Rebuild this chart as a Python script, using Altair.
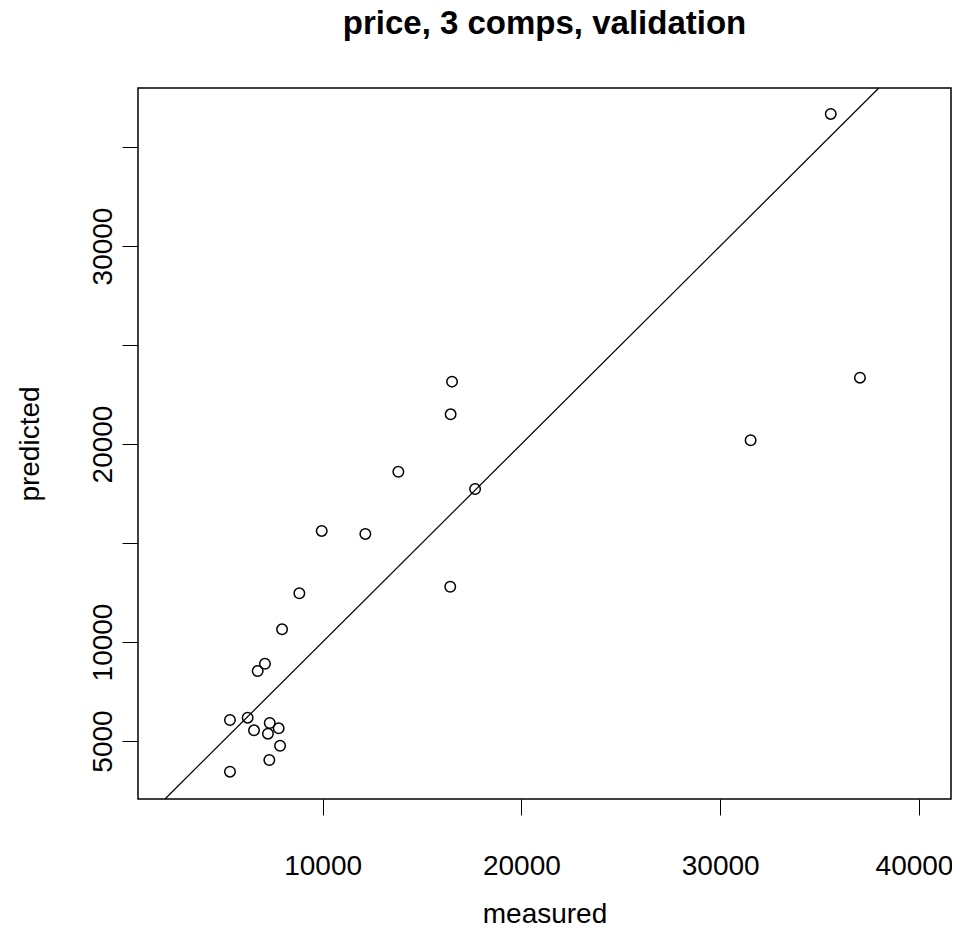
import altair as alt
import pandas as pd

measured = [35560, 37030, 31530, 16510, 16440, 13810, 17670, 9955, 12150, 16420,
            8830, 7960, 7100, 6735, 5340, 6230, 6550, 7340, 7790, 7250, 7860, 7320, 5340]
predicted = [36670, 23350, 20190, 23150, 21500, 18600, 17730, 15610, 15460, 12790,
             12460, 10640, 8900, 8535, 6060, 6180, 5540, 5910, 5640, 5370, 4760, 4040, 3450]

x_ticks = [10000, 20000, 30000, 40000]
y_ticks = [5000, 10000, 15000, 20000, 25000, 30000, 35000]
y_labeled = [5000, 10000, 20000, 30000]
x_domain = [714, 41610]
y_domain = [2071, 37980]
identity_ends = [2071, 37980]  # abline(0, 1) across the plotted range

pts = pd.DataFrame({"measured": measured, "predicted": predicted})
ref = pd.DataFrame({"measured": identity_ends, "predicted": identity_ends})

FONT = "Liberation Sans"

xscale = alt.Scale(domain=x_domain, nice=False, zero=False)
yscale = alt.Scale(domain=y_domain, nice=False, zero=False)

label_test = " || ".join(f"datum.value == {v}" for v in y_labeled)

xaxis = alt.Axis(values=x_ticks, title="measured", labelBaseline="alphabetic",
                 labelPadding=59, titleBaseline="alphabetic", titleY=123,
                 titleAlign="center", format="d",
                 labelOffset={"condition": {"test": "datum.value == 40000", "value": -5},
                              "value": 0})
yaxis = alt.Axis(values=y_ticks, title="predicted", labelAngle=270,
                 labelAlign="center", labelBaseline="alphabetic", labelPadding=11,
                 labelExpr=f"({label_test}) ? datum.label : ''",
                 format="d", titleAngle=270, titleX=-100, titleY=355.5,
                 titleAlign="center", titleBaseline="alphabetic")

points = alt.Chart(pts).mark_point(shape="circle", filled=False, color="black",
                                   size=110, strokeWidth=1.5, opacity=1).encode(
    x=alt.X("measured:Q", scale=xscale, axis=xaxis),
    y=alt.Y("predicted:Q", scale=yscale, axis=yaxis),
)

line = alt.Chart(ref).mark_line(color="black", strokeWidth=1.2).encode(
    x=alt.X("measured:Q", scale=xscale),
    y=alt.Y("predicted:Q", scale=yscale),
)

chart = alt.layer(line, points).properties(
    width=813,
    height=711,
    background="white",
    autosize=alt.AutoSizeParams(type="none"),
    padding={"left": 130, "top": 80, "right": 1, "bottom": 126},
    title=alt.TitleParams("price, 3 comps, validation", fontSize=33, fontWeight="bold",
                          font=FONT, anchor="middle", frame="group", offset=45,
                          color="black"),
).configure_view(
    stroke="black", strokeWidth=1.5, fill="white"
).configure_axis(
    grid=False, domain=False, tickColor="black", tickSize=16, tickWidth=1,
    labelFont=FONT, labelFontSize=28, labelColor="black",
    titleFont=FONT, titleFontSize=28, titleFontWeight="normal", titleColor="black",
    labelOverlap=False, labelFlush=False,
)

chart.save("out.html", embed_options={"renderer": "svg", "actions": False})
